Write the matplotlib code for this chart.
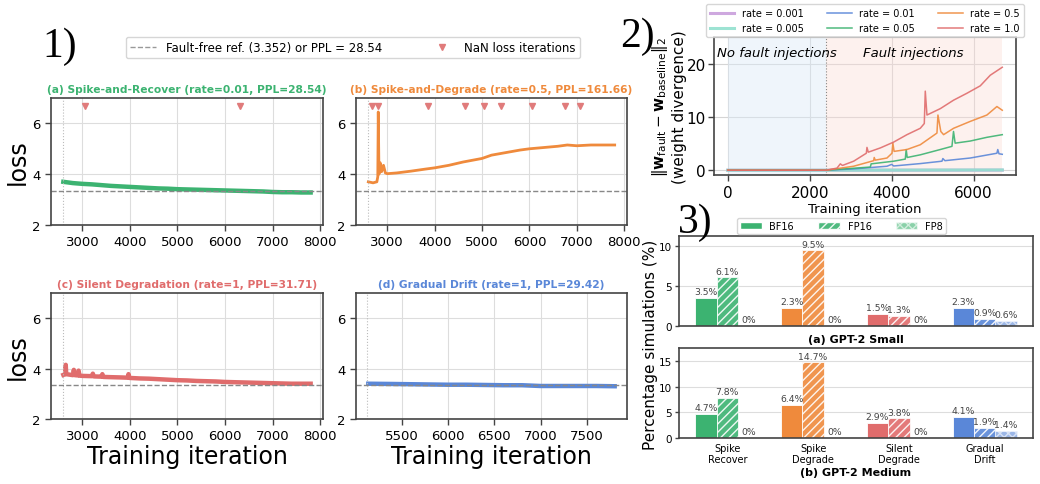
import numpy as np
import matplotlib
matplotlib.use('Agg')
from matplotlib import pyplot as plt
from matplotlib.lines import Line2D
from matplotlib.patches import Patch

"""Composite figure: 1) loss curves under fault injection,
2) weight divergence vs. iteration, 3) share of failing simulations."""

W, H = 1040, 485

GREEN = '#3cb371'
ORANGE = '#ef8a3c'
RED = '#e06c6c'
BLUE = '#5a87d8'
NAN_COLOR = '#e07b7b'
SPINE = '#444444'

# ---------------- panel 1 data ----------------
ref_loss = 3.352
ref_ppl = 28.54

a_iter = [2600, 2800, 3000, 3200, 3400, 3600, 3800, 4000, 4200, 4400, 4600, 4800,
          5000, 5200, 5400, 5600, 5800, 6000, 6200, 6400, 6600, 6800, 7000, 7200,
          7400, 7600, 7800]
a_loss = [3.70, 3.65, 3.62, 3.60, 3.57, 3.54, 3.52, 3.50, 3.48, 3.46, 3.44, 3.43,
          3.41, 3.40, 3.39, 3.38, 3.37, 3.36, 3.35, 3.34, 3.33, 3.32, 3.30, 3.29,
          3.29, 3.28, 3.28]
a_nan = [3050, 6320]

b_iter = [2600, 2700, 2780, 2800, 2810, 2825, 2850, 2880, 2920, 2960, 3000, 3200,
          3500, 3800, 4000, 4300, 4600, 5000, 5200, 5500, 5800, 6000, 6300, 6600,
          6800, 7000, 7300, 7600, 7800]
b_loss = [3.70, 3.66, 3.70, 3.90, 6.45, 4.00, 4.45, 4.10, 4.35, 4.05, 4.02, 4.05,
          4.12, 4.20, 4.25, 4.35, 4.48, 4.62, 4.75, 4.85, 4.95, 5.00, 5.05, 5.10,
          5.15, 5.12, 5.15, 5.15, 5.15]
b_nan = [2682, 2809, 3870, 4648, 5045, 5405, 6063, 6748, 7067]

c_iter = [2600, 2640, 2650, 2660, 2800, 2820, 2840, 2900, 2920, 2940, 3000, 3200,
          3220, 3240, 3400, 3420, 3440, 3600, 3800, 3950, 3970, 3990, 4200, 4400,
          4600, 4800, 5000, 5200, 5400, 5600, 5800, 6000, 6200, 6400, 6600, 6800,
          7000, 7200, 7400, 7600, 7800]
c_loss = [3.75, 3.78, 4.15, 3.78, 3.74, 3.95, 3.74, 3.73, 3.92, 3.72, 3.71, 3.70,
          3.80, 3.69, 3.68, 3.78, 3.67, 3.66, 3.65, 3.64, 3.78, 3.63, 3.61, 3.60,
          3.58, 3.56, 3.54, 3.53, 3.51, 3.50, 3.49, 3.47, 3.46, 3.45, 3.44, 3.43,
          3.42, 3.41, 3.40, 3.40, 3.40]

d_iter = [5140, 5400, 5600, 5800, 6000, 6200, 6400, 6600, 6800, 7000, 7200, 7400,
          7600, 7800]
d_loss = [3.40, 3.39, 3.38, 3.37, 3.36, 3.36, 3.35, 3.34, 3.34, 3.31, 3.31, 3.31,
          3.31, 3.30]

# ---------------- panel 2 data ----------------
fault_start = 2400
div_end = 6700
div_iter = {
    '0.001': [0, 2400, 6700],
    '0.005': [0, 2400, 6700],
    '0.01': [0, 2400, 3073, 3886, 4000, 4050, 4699, 5228, 5250, 5300, 5919, 6569, 6590, 6620, 6700],
    '0.05': [0, 2400, 3480, 3500, 4049, 4333, 4355, 4380, 4699, 5187, 5472, 5510, 5550, 5919, 6325, 6700],
    '0.5': [0, 2400, 3073, 3561, 3575, 3600, 3886, 4008, 4030, 4060, 4374, 4699, 5106, 5130, 5200, 5268, 5512, 5919, 6325, 6569, 6700],
    '1.0': [0, 2400, 2667, 2748, 2800, 3073, 3382, 3398, 3430, 3724, 4049, 4374, 4699, 4797, 4821, 4862, 5187, 5512, 5837, 6163, 6407, 6700],
}
div_val = {
    '0.001': [0, 0, 0.02],
    '0.005': [0, 0, 0.05],
    '0.01': [0, 0, 0.25, 0.75, 1.1, 0.8, 1.25, 1.7, 2.2, 1.8, 2.3, 3.2, 3.9, 3.1, 3.0],
    '0.05': [0, 0, 0.6, 1.2, 1.7, 2.1, 3.9, 2.4, 2.9, 3.9, 4.5, 7.3, 5.1, 5.5, 6.2, 6.7],
    '0.5': [0, 0, 0.75, 1.8, 2.4, 1.9, 2.3, 3.2, 5.1, 3.55, 3.9, 4.8, 7.0, 10.4, 7.3, 6.7, 7.9, 9.2, 10.4, 12.0, 11.3],
    '1.0': [0, 0, 0.4, 1.2, 0.9, 1.7, 3.2, 4.3, 3.4, 4.2, 5.3, 6.7, 7.9, 8.8, 14.9, 10.4, 11.6, 13.2, 14.5, 15.9, 17.9, 19.4],
}
rate_colors = {'0.001': '#c99fdc', '0.005': '#93e0cf', '0.01': BLUE,
               '0.05': GREEN, '0.5': ORANGE, '1.0': RED}
legend_order = ['0.001', '0.005', '0.01', '0.05', '0.5', '1.0']

# ---------------- panel 3 data ----------------
categories = ['Spike\nRecover', 'Spike\nDegrade', 'Silent\nDegrade', 'Gradual\nDrift']
cat_colors = [GREEN, ORANGE, RED, BLUE]
small_bf16 = [3.5, 2.3, 1.5, 2.3]
small_fp16 = [6.1, 9.5, 1.3, 0.9]
small_fp8 = [0, 0, 0, 0.6]
medium_bf16 = [4.7, 6.4, 2.9, 4.1]
medium_fp16 = [7.8, 14.7, 3.8, 1.9]
medium_fp8 = [0, 0, 0, 1.4]

plt.rcParams['hatch.linewidth'] = 1.0
fig = plt.figure(figsize=(W / 100, H / 100), dpi=100)


def add_axes_px(l, t, r, b):
    return fig.add_axes([l / W, 1 - b / H, (r - l) / W, (b - t) / H])


def style_axes(ax, fs):
    for s in ax.spines.values():
        s.set_color(SPINE)
        s.set_linewidth(1.2)
    ax.tick_params(labelsize=fs, width=1.0, length=4, color=SPINE)


# ---------------- panel 1 ----------------
loss_panels = [
    ((51, 99, 323, 226), a_iter, a_loss, a_nan, GREEN,
     '(a) Spike-and-Recover (rate=0.01, PPL=28.54)', None),
    ((356, 99, 627, 226), b_iter, b_loss, b_nan, ORANGE,
     '(b) Spike-and-Degrade (rate=0.5, PPL=161.66)', None),
    ((51, 294, 323, 420), c_iter, c_loss, [], RED,
     '(c) Silent Degradation (rate=1, PPL=31.71)', None),
    ((356, 294, 627, 420), d_iter, d_loss, [], BLUE,
     '(d) Gradual Drift (rate=1, PPL=29.42)', 500),
]
for i, (box, it, loss, nans, col, title, step) in enumerate(loss_panels):
    ax = add_axes_px(*box)
    ax.grid(True, color='#dddddd', lw=0.8)
    ax.set_axisbelow(True)
    lw = 2.0 if i == 1 else 3.2
    ax.plot(it, loss, color=col, lw=lw, solid_joinstyle='round')
    ax.axhline(ref_loss, color='#888888', ls='--', lw=1.0)
    ax.axvline(it[0] - 10, color='#bbbbbb', ls=':', lw=0.8)
    if nans:
        ax.plot(nans, [6.68] * len(nans), 'v', color=NAN_COLOR, ms=4.5, ls='none')
    ax.set_ylim(2, 7)
    ax.set_yticks([2, 4, 6])
    pad = (it[-1] - it[0]) * 0.05
    ax.set_xlim(it[0] - pad, it[-1] + pad)
    if step:
        ax.set_xticks(np.arange(5500, 7600, step))
    else:
        ax.set_xticks(np.arange(3000, 8001, 1000))
    ax.set_title(title, color=col, fontsize=7.7, fontweight='bold', pad=4)
    style_axes(ax, 9.5)
    if i % 2 == 0:
        ax.set_ylabel('loss', fontsize=17, labelpad=2)
    if i >= 2:
        ax.set_xlabel('Training iteration', fontsize=17, labelpad=1)

handles = [Line2D([0], [0], color='#999999', ls='--', lw=1.0),
           Line2D([0], [0], marker='v', color=NAN_COLOR, ls='none', ms=4.5)]
fig.legend(handles, ['Fault-free ref. (3.352) or PPL = 28.54', 'NaN loss iterations'],
           loc='center', bbox_to_anchor=(353 / W, 1 - 48.5 / H), ncol=2,
           fontsize=8.5, frameon=True, handlelength=2.2, columnspacing=4.0,
           borderpad=0.35, edgecolor='#cccccc')

# ---------------- panel 2 ----------------
ax2 = add_axes_px(714, 38, 1016, 176)
ax2.axvspan(0, fault_start, color='#dcebf8', alpha=0.45, lw=0)
ax2.axvspan(fault_start, div_end, color='#fbdcd6', alpha=0.4, lw=0)
ax2.axvline(fault_start, color='#888888', ls=':', lw=0.8)
ax2.grid(True, color='#d5d5d5', lw=0.8)
ax2.set_axisbelow(True)
for r in legend_order:
    lw = 2.2 if r in ('0.001', '0.005') else 1.1
    ax2.plot(div_iter[r], div_val[r], color=rate_colors[r], lw=lw, alpha=0.9,
             label=f'rate = {r}')
ax2.set_xlim(-335, 7035)
ax2.set_ylim(-0.9, 25.1)
ax2.set_xticks([0, 2000, 4000, 6000])
ax2.set_yticks([0, 10, 20])
style_axes(ax2, 11)
ax2.tick_params(axis='y', pad=2)
ax2.set_xlabel('Training iteration', fontsize=9.5, labelpad=1)
ax2.set_ylabel(r'$\|\mathbf{w}_{\mathrm{fault}} - \mathbf{w}_{\mathrm{baseline}}\|_2$'
               + '\n(weight divergence)', fontsize=11)
ax2.yaxis.set_label_coords(-0.088, 0.5)
ax2.text(0.01, 0.89, 'No fault injections', transform=ax2.transAxes,
         fontsize=9.5, style='italic', va='center')
ax2.text(0.493, 0.89, 'Fault injections', transform=ax2.transAxes,
         fontsize=9.5, style='italic', va='center')
h2, l2 = ax2.get_legend_handles_labels()
ax2.legend(h2, l2, loc='lower center', bbox_to_anchor=(0.5, 1.0), ncol=3,
           fontsize=7, frameon=True, borderaxespad=0, handlelength=2.5,
           columnspacing=2.4, edgecolor='#cccccc')

# ---------------- panel 3 ----------------
x = np.arange(len(categories))
w = 0.25


def bars(ax, bf16, fp16, fp8, show_ticks):
    ax.grid(True, axis='y', color='#dddddd', lw=0.8)
    ax.set_axisbelow(True)
    ax.bar(x - w, bf16, w, color=cat_colors, edgecolor='white', lw=0.6)
    ax.bar(x, fp16, w, color=cat_colors, edgecolor='white', lw=0.6,
           hatch='////', alpha=0.9)
    ax.bar(x + w, fp8, w, color=cat_colors, edgecolor='white', lw=0.6,
           hatch='xxxx', alpha=0.6)
    top = max(max(bf16), max(fp16), max(fp8)) * 1.19
    for offs, vals in [(-w, bf16), (0, fp16), (w, fp8)]:
        for xi, v in zip(x, vals):
            lab = f'{v:.1f}%' if v > 0 else '0%'
            ax.text(xi + offs, v + top * 0.02, lab, ha='center', va='bottom',
                    fontsize=6.7, color='#444444')
    ax.set_ylim(0, top)
    style_axes(ax, 7.5)
    ax.tick_params(axis='y', length=3, pad=2)
    ax.tick_params(axis='x', length=0)
    ax.set_xticks(x)
    if show_ticks:
        ax.set_xticklabels(categories, fontsize=7)
    else:
        ax.set_xticklabels([])


ax3a = add_axes_px(679, 237, 1033, 327)
bars(ax3a, small_bf16, small_fp16, small_fp8, False)
ax3a.set_yticks([0, 5, 10])
ax3a.set_xlabel('(a) GPT-2 Small', fontsize=8, fontweight='bold', labelpad=2)

ax3b = add_axes_px(679, 349, 1033, 439)
bars(ax3b, medium_bf16, medium_fp16, medium_fp8, True)
ax3b.set_yticks([0, 5, 10, 15])
ax3b.set_xlabel('(b) GPT-2 Medium', fontsize=8, fontweight='bold', labelpad=2)

leg_handles = [Patch(facecolor=GREEN, edgecolor='white'),
               Patch(facecolor=GREEN, edgecolor='white', hatch='////', alpha=0.9),
               Patch(facecolor=GREEN, edgecolor='white', hatch='xxxx', alpha=0.6)]
ax3a.legend(leg_handles, ['BF16', 'FP16', 'FP8'], loc='lower center',
            bbox_to_anchor=(0.459, 1.02), ncol=3, fontsize=7, frameon=True,
            borderaxespad=0, handlelength=2.2, columnspacing=2.5,
            edgecolor='#cccccc', borderpad=0.3)

fig.text(651 / W, 1 - 345 / H, 'Percentage simulations (%)', rotation=90,
         fontsize=11, ha='center', va='center')

# panel numbers
for txt, px, py in [('1)', 42, 47), ('2)', 620, 37), ('3)', 678, 223)]:
    fig.text(px / W, 1 - py / H, txt, fontsize=30, family='Liberation Serif',
             va='center', ha='left')

fig.savefig('out.png', dpi=100)
